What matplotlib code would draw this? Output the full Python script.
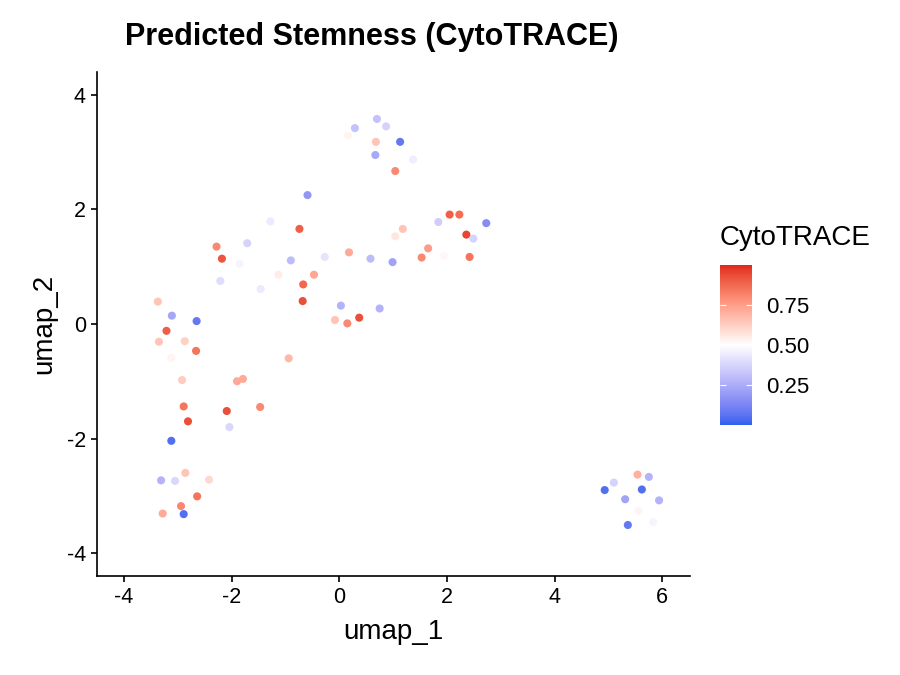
import numpy as np
import matplotlib
matplotlib.use("Agg")
import matplotlib.pyplot as plt
from matplotlib.colors import ListedColormap, Normalize, to_rgb

plt.rcParams['font.family'] = ['Liberation Sans', 'DejaVu Sans']

# umap coordinates + CytoTRACE score
umap_1 = [-2.21, -3.37, -3.11, -2.65, -3.21, -3.35, -2.87, -2.66, -3.12, -2.92,
          -1.90, -1.79, -2.89, -2.09, -2.81, -2.04, -3.12, -2.86, -3.31, -3.05,
          -2.42, -2.64, -2.94, -3.28, -2.89,
          -0.59, -1.28, -0.74, -2.28, -1.71, -2.18, -1.85, -0.90, -0.27, 0.18,
          0.58, -1.13, -0.47, -1.46, -0.67, -0.68, 0.03, 0.75, -0.08, 0.15,
          0.37, -0.94, -1.47,
          0.70, 0.29, 0.87, 0.16, 0.68, 1.13, 0.67, 1.37, 1.04, 2.05,
          2.23, 1.84, 2.73, 1.18, 1.04, 2.36, 2.49, 1.65, 1.53, 1.94,
          2.42, 0.99,
          5.54, 5.75, 5.10, 4.93, 5.62, 5.31, 5.94, 5.56, 5.83, 5.36]
umap_2 = [0.75, 0.39, 0.145, 0.05, -0.12, -0.31, -0.30, -0.47, -0.59, -0.98,
          -1.00, -0.96, -1.44, -1.52, -1.70, -1.80, -2.04, -2.60, -2.73, -2.74,
          -2.72, -3.01, -3.18, -3.31, -3.32,
          2.25, 1.79, 1.66, 1.35, 1.41, 1.14, 1.05, 1.11, 1.17, 1.25,
          1.14, 0.86, 0.86, 0.61, 0.69, 0.40, 0.32, 0.27, 0.07, 0.01,
          0.11, -0.60, -1.45,
          3.58, 3.42, 3.45, 3.29, 3.18, 3.18, 2.95, 2.87, 2.67, 1.91,
          1.91, 1.78, 1.76, 1.66, 1.53, 1.56, 1.49, 1.32, 1.16, 1.19,
          1.17, 1.08,
          -2.63, -2.67, -2.77, -2.90, -2.89, -3.06, -3.08, -3.26, -3.46, -3.51]
cytotrace = [0.40, 0.65, 0.23, 0.08, 0.90, 0.65, 0.62, 0.85, 0.53, 0.63,
             0.72, 0.72, 0.85, 0.93, 0.93, 0.38, 0.05, 0.65, 0.27, 0.38,
             0.60, 0.85, 0.80, 0.72, 0.05,
             0.18, 0.44, 0.90, 0.80, 0.37, 0.92, 0.47, 0.30, 0.42, 0.72,
             0.30, 0.55, 0.73, 0.44, 0.88, 0.93, 0.27, 0.27, 0.65, 0.80,
             0.93, 0.68, 0.80,
             0.32, 0.32, 0.37, 0.53, 0.65, 0.08, 0.24, 0.45, 0.80, 0.90,
             0.87, 0.35, 0.15, 0.65, 0.56, 0.95, 0.37, 0.75, 0.80, 0.52,
             0.85, 0.22,
             0.70, 0.27, 0.37, 0.05, 0.05, 0.22, 0.27, 0.53, 0.47, 0.08]

low_col, mid_col, high_col = "#2C62EE", "#FFFFFF", "#E0261E"


# ggplot interpolates gradient2 in Lab space, do the same here
def srgb_to_lab(c):
    c = np.array(to_rgb(c))
    lin = np.where(c <= 0.04045, c / 12.92, ((c + 0.055) / 1.055) ** 2.4)
    m = np.array([[0.4124, 0.3576, 0.1805],
                  [0.2126, 0.7152, 0.0722],
                  [0.0193, 0.1192, 0.9505]])
    xyz = m @ lin / np.array([0.95047, 1.0, 1.08883])
    f = np.where(xyz > 0.008856, np.cbrt(xyz), 7.787 * xyz + 16 / 116)
    return np.array([116 * f[1] - 16, 500 * (f[0] - f[1]), 200 * (f[1] - f[2])])


def lab_to_srgb(lab):
    L, a, b = lab
    fy = (L + 16) / 116
    fx = fy + a / 500
    fz = fy - b / 200
    f = np.array([fx, fy, fz])
    xyz = np.where(f ** 3 > 0.008856, f ** 3, (f - 16 / 116) / 7.787)
    xyz = xyz * np.array([0.95047, 1.0, 1.08883])
    m = np.array([[3.2406, -1.5372, -0.4986],
                  [-0.9689, 1.8758, 0.0415],
                  [0.0557, -0.2040, 1.0570]])
    lin = m @ xyz
    c = np.where(lin <= 0.0031308, 12.92 * lin, 1.055 * np.clip(lin, 0, None) ** (1 / 2.4) - 0.055)
    return np.clip(c, 0, 1)


lab_lo, lab_mid, lab_hi = srgb_to_lab(low_col), srgb_to_lab(mid_col), srgb_to_lab(high_col)
cols = []
for t in np.linspace(0, 1, 256):
    if t < 0.5:
        cols.append(lab_to_srgb(lab_lo + (lab_mid - lab_lo) * (t / 0.5)))
    else:
        cols.append(lab_to_srgb(lab_mid + (lab_hi - lab_mid) * ((t - 0.5) / 0.5)))
cmap = ListedColormap(cols)
norm = Normalize(vmin=0, vmax=1)

fig = plt.figure(figsize=(9, 6.75), dpi=100)
ax = fig.add_axes([0.1078, 0.1467, 0.6592, 0.7467])

ax.scatter(umap_1, umap_2, c=cytotrace, cmap=cmap, norm=norm, s=34, linewidths=0)

ax.set_xlim(-4.5, 6.52)
ax.set_ylim(-4.4, 4.4)
ax.set_xticks([-4, -2, 0, 2, 4, 6])
ax.set_yticks([-4, -2, 0, 2, 4])
ax.set_xticklabels(['-4', '-2', '0', '2', '4', '6'])
ax.set_yticklabels(['-4', '-2', '0', '2', '4'])
for side in ['top', 'right']:
    ax.spines[side].set_visible(False)
for side in ['left', 'bottom']:
    ax.spines[side].set_linewidth(1.2)
ax.tick_params(labelsize=15.5, length=4, width=1.2, pad=4, colors='black')
ax.set_xlabel("umap_1", fontsize=20, labelpad=8)
ax.set_ylabel("umap_2", fontsize=20, labelpad=7)

fig.text(0.413, 0.945, "Predicted Stemness (CytoTRACE)", fontsize=22,
         fontweight='bold', ha='center', va='center')

# colour bar, ggplot style
cax = fig.add_axes([0.8, 0.3704, 0.0356, 0.237])
cb = fig.colorbar(plt.cm.ScalarMappable(norm=norm, cmap=cmap), cax=cax)
cb.outline.set_visible(False)
cb.set_ticks([0.25, 0.5, 0.75])
cb.set_ticklabels(['0.25', '0.50', '0.75'])
cax.yaxis.set_ticks_position('both')
cax.tick_params(axis='y', direction='in', color='white', length=4, width=0.8,
                labelsize=16, pad=10, labelleft=False, labelright=True)
fig.text(0.8, 0.647, "CytoTRACE", fontsize=20, ha='left', va='center')

fig.savefig("out.png", dpi=100)
